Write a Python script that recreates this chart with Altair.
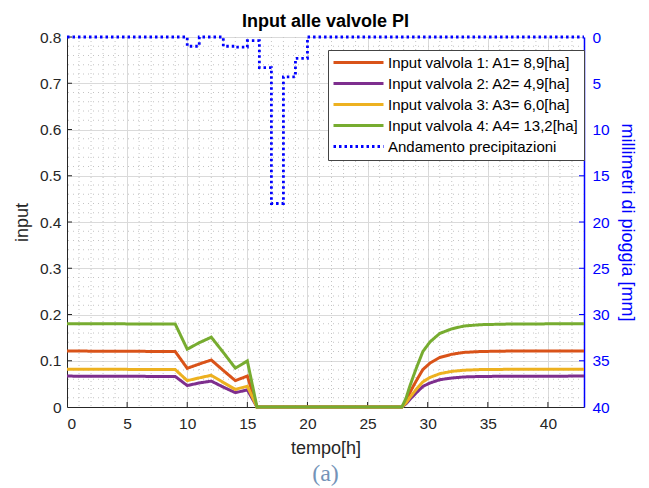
import altair as alt
import pandas as pd

# Time samples [h] for the valve inputs
hours = [0, 9, 10, 11, 12, 13, 14, 15, 15.8, 27.85, 28.2, 28.5, 28.8, 29.1,
         29.6, 30.2, 31, 32, 33, 34.4, 37, 43]

valve1 = [0.121, 0.120, 0.0836, 0.093, 0.1016, 0.079, 0.057, 0.067, 0, 0,
          0.013, 0.030, 0.045, 0.059, 0.081, 0.095, 0.107, 0.114, 0.118, 0.120, 0.121, 0.121]
valve2 = [0.0668, 0.066, 0.0464, 0.052, 0.056, 0.043, 0.031, 0.037, 0, 0,
          0.007, 0.016, 0.024, 0.032, 0.0445, 0.052, 0.059, 0.0627, 0.065, 0.066, 0.0666, 0.0668]
valve3 = [0.0818, 0.081, 0.057, 0.063, 0.0686, 0.053, 0.038, 0.045, 0, 0,
          0.009, 0.020, 0.030, 0.040, 0.0545, 0.064, 0.072, 0.077, 0.0795, 0.081, 0.0815, 0.0818]
valve4 = [0.180, 0.1795, 0.125, 0.139, 0.151, 0.118, 0.084, 0.0995, 0, 0,
          0.019, 0.044, 0.066, 0.087, 0.120, 0.141, 0.159, 0.169, 0.175, 0.178, 0.1795, 0.180]

# Hourly rainfall [mm]
rain_hours = list(range(44))
rain_mm = [0, 0, 0, 0, 0, 0, 0, 0, 0, 0,
           1, 0, 0, 1, 1.1, 0.4, 3.3, 18, 4.3, 2.3,
           0, 0, 0, 0, 0, 0, 0, 0, 0, 0, 0, 0, 0, 0, 0, 0, 0, 0, 0, 0, 0, 0, 0, 0]

series_names = ["Input valvola 1: A1= 8,9[ha]", "Input valvola 2: A2= 4,9[ha]",
                "Input valvola 3: A3= 6,0[ha]", "Input valvola 4: A4= 13,2[ha]",
                "Andamento precipitazioni"]
series_colors = ["#D95319", "#7E2F8E", "#EDB120", "#77AC30", "#0000FF"]
series_dash = [[1, 0], [1, 0], [1, 0], [1, 0], [2.5, 3]]

x_ticks = list(range(0, 45, 5))
y_ticks = [round(0.1 * k, 1) for k in range(9)]
rain_ticks = list(range(0, 45, 5))
minor_x = [h for h in range(1, 43) if h % 5]
minor_y = [round(0.02 * k, 2) for k in range(1, 40) if k % 5]

FONT = "Liberation Sans"
INK = "#262626"
BLUE = "#0000FF"

rows = []
for name, vals in zip(series_names[:4], [valve1, valve2, valve3, valve4]):
    for h, v in zip(hours, vals):
        rows.append({"ora": h, "valore": v, "serie": name})
inputs_df = pd.DataFrame(rows)
rain_df = pd.DataFrame({"ora": rain_hours, "mm": rain_mm, "serie": series_names[4]})

x_scale = alt.Scale(domain=[0, 43], nice=False, zero=False)
y_scale = alt.Scale(domain=[0, 0.8], nice=False)
rain_scale = alt.Scale(domain=[0, 40], reverse=True, nice=False)

x_axis = alt.Axis(title="tempo[h]", values=x_ticks, grid=True, gridColor="#dadada",
                  ticks=False, labelPadding=9, domainColor=INK, labelFontSize=15.5,
                  titleFontSize=18, titleFontWeight="normal", labelColor=INK,
                  titleColor=INK, titlePadding=8, labelFont=FONT, titleFont=FONT)
y_axis = alt.Axis(title="input", values=y_ticks, grid=True, gridColor="#dadada",
                  labelExpr="datum.value == 0 ? '0' : format(datum.value, '.1f')",
                  ticks=False, labelPadding=6, domainColor=INK, labelFontSize=15.5,
                  titleFontSize=18, titleFontWeight="normal", labelColor=INK,
                  titleColor=INK, titlePadding=8, labelFont=FONT, titleFont=FONT)
rain_axis = alt.Axis(orient="right", title="millimetri di pioggia [mm]",
                     values=rain_ticks, grid=False, ticks=False, labelPadding=8,
                     domainColor=BLUE, domainWidth=1.5, labelColor=BLUE,
                     titleColor=BLUE, labelFontSize=15.5, titleFontSize=18,
                     titleFontWeight="normal", titlePadding=8,
                     labelFont=FONT, titleFont=FONT)

legend = alt.Legend(title=None, orient="none", legendX=261, legendY=13,
                    fillColor="white", strokeColor="#444444", padding=5,
                    labelFont=FONT, labelFontSize=15, labelColor="black", labelLimit=400,
                    symbolType="M-5,0H5", symbolSize=100, symbolStrokeWidth=3,
                    symbolOffset=18, labelOffset=22, rowPadding=5)

color_enc = alt.Color("serie:N", scale=alt.Scale(domain=series_names, range=series_colors),
                      legend=legend)
dash_enc = alt.StrokeDash("serie:N", scale=alt.Scale(domain=series_names, range=series_dash),
                          legend=legend)

# Dotted minor grid
grid_v = alt.Chart(pd.DataFrame({"h": minor_x})).mark_rule(
    color="#c4c4c4", strokeDash=[1, 3], strokeWidth=1
).encode(x=alt.X("h:Q", scale=x_scale, axis=x_axis))

grid_h = alt.Chart(pd.DataFrame({"v": minor_y})).mark_rule(
    color="#c4c4c4", strokeDash=[1, 4], strokeWidth=1
).encode(y=alt.Y("v:Q", scale=y_scale, axis=y_axis))

# Inward tick marks on the bottom and left axes
ticks_x = alt.Chart(pd.DataFrame({"h": x_ticks[1:]})).mark_rule(color=INK, strokeWidth=1).encode(
    x=alt.X("h:Q", scale=x_scale, axis=x_axis), y=alt.value(370), y2=alt.value(365))
ticks_y = alt.Chart(pd.DataFrame({"v": y_ticks[1:]})).mark_rule(color=INK, strokeWidth=1).encode(
    y=alt.Y("v:Q", scale=y_scale, axis=y_axis), x=alt.value(0), x2=alt.value(5))

lines = alt.Chart(inputs_df).mark_line(strokeWidth=3, strokeCap="butt").encode(
    x=alt.X("ora:Q", scale=x_scale, axis=x_axis),
    y=alt.Y("valore:Q", scale=y_scale, axis=y_axis),
    color=color_enc,
    strokeDash=dash_enc,
)

left = alt.layer(grid_v, grid_h, ticks_x, ticks_y, lines)

ticks_r = alt.Chart(pd.DataFrame({"mm": rain_ticks[1:-1]})).mark_rule(color=BLUE, strokeWidth=1).encode(
    y=alt.Y("mm:Q", scale=rain_scale, axis=rain_axis), x=alt.value(517), x2=alt.value(512))

rain = alt.Chart(rain_df).mark_line(strokeWidth=2.8, interpolate="step-after",
                                    strokeCap="butt").encode(
    x=alt.X("ora:Q", scale=x_scale, axis=x_axis),
    y=alt.Y("mm:Q", scale=rain_scale, axis=rain_axis),
    color=color_enc,
    strokeDash=dash_enc,
)

right = alt.layer(ticks_r, rain)

caption = alt.Chart(pd.DataFrame({"didascalia": ["(a)"]})).mark_text(
    font="Liberation Serif", fontSize=24, color="#7493b8", baseline="middle", align="center"
).encode(text="didascalia:N", x=alt.value(258.5), y=alt.value(437))

chart = alt.layer(left, right, caption).resolve_scale(y="independent").properties(
    width=517, height=370,
    title=alt.TitleParams("Input alle valvole PI", font=FONT, fontSize=18, fontWeight="bold",
                          color="black", anchor="middle", baseline="bottom", offset=6, dy=25),
    autosize=alt.AutoSizeParams(type="none"),
    padding={"left": 67, "top": 37, "right": 65, "bottom": 81},
).configure_view(stroke="#c8c8c8").configure(background="white")

chart.save("out.html", embed_options={"renderer": "svg", "actions": False})
